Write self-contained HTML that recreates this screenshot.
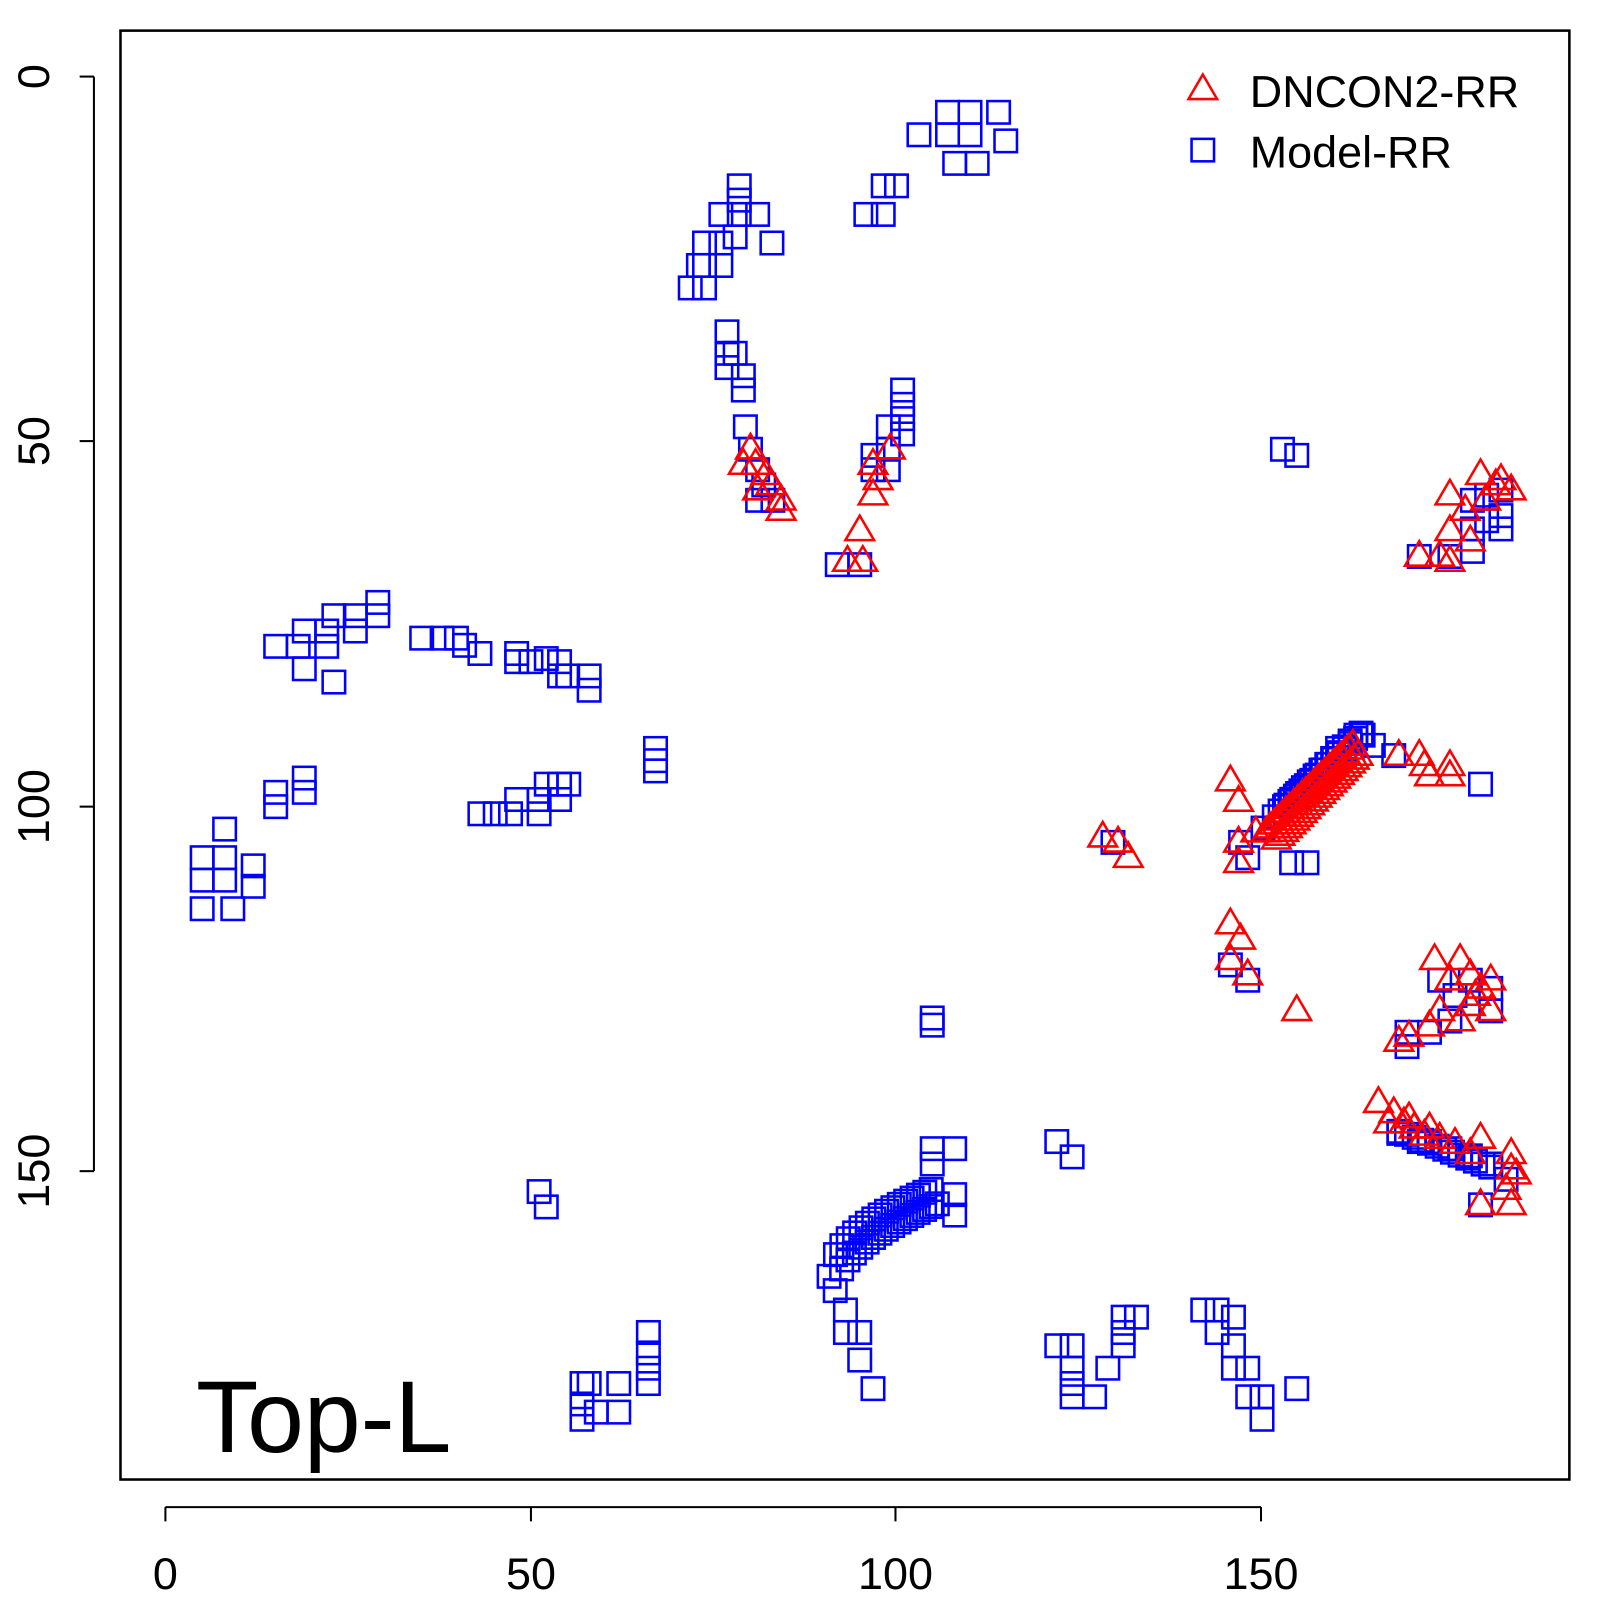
<!DOCTYPE html>
<html><head><style>html,body{margin:0;padding:0;background:#fff}svg{display:block}</style></head>
<body>
<svg id="s" width="1600" height="1600" viewBox="0 0 1567 1567" xmlns="http://www.w3.org/2000/svg" font-family="Liberation Sans, Arial, sans-serif">
<rect x="0" y="0" width="1567" height="1567" fill="#fff"/>
<rect x="118" y="30" width="1419" height="1419" fill="none" stroke="#000" stroke-width="2.5"/>
<g stroke="#000" stroke-width="2" fill="none">
<line x1="162" y1="1476" x2="1235" y2="1476"/>
<line x1="162" y1="1476" x2="162" y2="1490"/><line x1="520" y1="1476" x2="520" y2="1490"/>
<line x1="877" y1="1476" x2="877" y2="1490"/><line x1="1235" y1="1476" x2="1235" y2="1490"/>
<line x1="92" y1="75" x2="92" y2="1147"/>
<line x1="92" y1="75" x2="78" y2="75"/><line x1="92" y1="432" x2="78" y2="432"/>
<line x1="92" y1="790" x2="78" y2="790"/><line x1="92" y1="1147" x2="78" y2="1147"/>
</g>
<g font-size="44" text-anchor="middle" fill="#000">
<text x="162" y="1556">0</text><text x="520" y="1556">50</text><text x="877" y="1556">100</text><text x="1235" y="1556">150</text>
<text transform="translate(48,75) rotate(-90)">0</text>
<text transform="translate(48,432) rotate(-90)">50</text>
<text transform="translate(48,790) rotate(-90)">100</text>
<text transform="translate(48,1147) rotate(-90)">150</text>
</g>
<text x="192" y="1422" font-size="100" fill="#000">Top-L</text>
<g id="pts"></g>
<polygon points="1178,73 1164,97 1192,97" fill="none" stroke="red" stroke-width="2.5"/>
<rect x="1167" y="136" width="22" height="22" fill="none" stroke="blue" stroke-width="2.5"/>
<text x="1224" y="105" font-size="44">DNCON2-RR</text>
<text x="1224" y="164" font-size="44">Model-RR</text>
</svg>
<script>
var sq=[[928,110],[950,110],[978,110],[928,132],[950,132],[985,138],[900,132],[935,160],[957,160],[865,182],[878,182],[848,210],[865,210],
[724,182],[724,196],[724,210],[742,210],[706,210],[720,232],[706,238],[756,238],[690,238],[690,260],[706,260],[676,282],[690,282],[684,260],[712,325],[712,346],[720,346],[712,360],[728,368],[728,382],[730,418],[735,440],[742,460],[748,475],[757,490],[742,490],
[884,382],[884,396],[884,410],[884,425],[870,418],[870,440],[855,446],[870,460],[855,460],[820,553],[842,553],
[1256,440],[1270,446],[1442,490],[1470,480],[1470,505],[1442,518],[1470,518],[1442,540],[1390,545],[1420,545],[1456,485],[1456,510],
[270,633],[292,633],[298,618],[298,655],[320,618],[320,633],[327,668],[327,603],[348,603],[348,618],[370,590],[370,603],[413,625],[433,625],[447,625],[455,632],[470,640],[506,640],[506,648],[520,648],[535,645],[548,648],[548,662],[556,662],[577,662],[577,676],
[642,733],[642,745],[642,755],[270,776],[270,790],[298,762],[298,776],[220,812],[198,840],[198,862],[198,890],[220,840],[220,862],[228,890],[248,848],[248,868],
[470,797],[485,797],[500,797],[506,783],[528,797],[528,783],[535,768],[548,768],[557,768],[548,783],
[913,997],[913,1004],
[1450,768],[1365,740],[1345,730],[1335,720],[1310,733],
[1090,825],[1215,825],[1222,840],[1265,845],[1280,845],[1237,811],[1205,945],[1222,960],
[1410,960],[1440,960],[1460,968],[1378,1011],[1400,1011],[1378,1025],[1420,1000],[1460,990],[1425,975],
[1370,1110],[1390,1118],[1400,1118],[1420,1125],[1440,1132],[1460,1140],[1450,1180],[1475,1155],
[913,1125],[913,1140],[935,1125],[935,1170],[935,1190],
[828,1283],[828,1305],[842,1305],[842,1332],[855,1360],
[528,1167],[535,1182],[570,1355],[570,1375],[570,1390],[577,1355],[584,1383],[606,1383],[606,1355],[635,1305],[635,1325],[635,1340],[635,1355],
[1035,1118],[1050,1133],[1035,1318],[1050,1318],[1050,1340],[1050,1355],[1050,1368],[1072,1368],[1085,1340],[1100,1290],[1100,1305],[1100,1318],[1113,1290],
[1178,1283],[1192,1283],[1192,1305],[1208,1290],[1208,1318],[1208,1340],[1222,1340],[1222,1368],[1236,1368],[1236,1390],[1270,1360]];
// dense arcs
for(var i=0;i<=14;i++){var t=i/14;sq.push([1248+t*80,800-t*80]);sq.push([1258+t*75,790-t*72]);}
for(var i=0;i<=16;i++){var t=i/16;var x=812+t*100;var y=1250-Math.sqrt(t)*85;sq.push([x,y]);sq.push([x+6,y+14]);}
for(var i=0;i<=12;i++){var t=i/12;sq.push([1370+t*90,1108+t*35]);}
var tr=[[735,440],[740,455],[750,465],[755,475],[765,490],[728,455],[742,480],[765,500],[855,455],[872,440],[860,470],[855,485],[842,520],[830,550],[845,550],
[1450,465],[1465,475],[1480,480],[1420,485],[1420,520],[1440,530],[1390,545],[1410,545],[1420,550],[1435,500],[1455,490],[1470,470],
[1205,765],[1213,785],[1213,825],[1213,845],[1230,815],[1205,905],[1215,920],[1205,940],[1222,955],[1270,990],[1080,820],[1095,825],[1105,840],
[1370,740],[1390,740],[1400,760],[1420,750],[1395,750],[1420,760],
[1405,940],[1430,940],[1460,960],[1440,955],[1450,968],[1380,1015],[1400,1005],[1410,990],[1370,1020],[1430,1000],[1440,985],[1460,990],[1420,960],[1445,975],
[1350,1080],[1365,1090],[1375,1100],[1385,1105],[1400,1105],[1410,1115],[1425,1120],[1450,1115],[1440,1130],[1480,1130],[1480,1145],[1485,1150],[1475,1165],[1480,1180],[1450,1180],[1360,1100],[1380,1095],[1395,1112]];
for(var i=0;i<=22;i++){var t=i/22;tr.push([1240+t*85,815-t*85]);tr.push([1250+t*80,822-t*82]);}
var g=document.getElementById('pts'),h='';
sq.forEach(function(p){h+='<rect x="'+(p[0]-11)+'" y="'+(p[1]-11)+'" width="22" height="22" fill="none" stroke="blue" stroke-width="2.5"/>';});
tr.forEach(function(p){h+='<polygon points="'+p[0]+','+(p[1]-15)+' '+(p[0]-14)+','+(p[1]+9)+' '+(p[0]+14)+','+(p[1]+9)+'" fill="none" stroke="red" stroke-width="2.5"/>';});
g.innerHTML=h;
</script>
</body></html>
